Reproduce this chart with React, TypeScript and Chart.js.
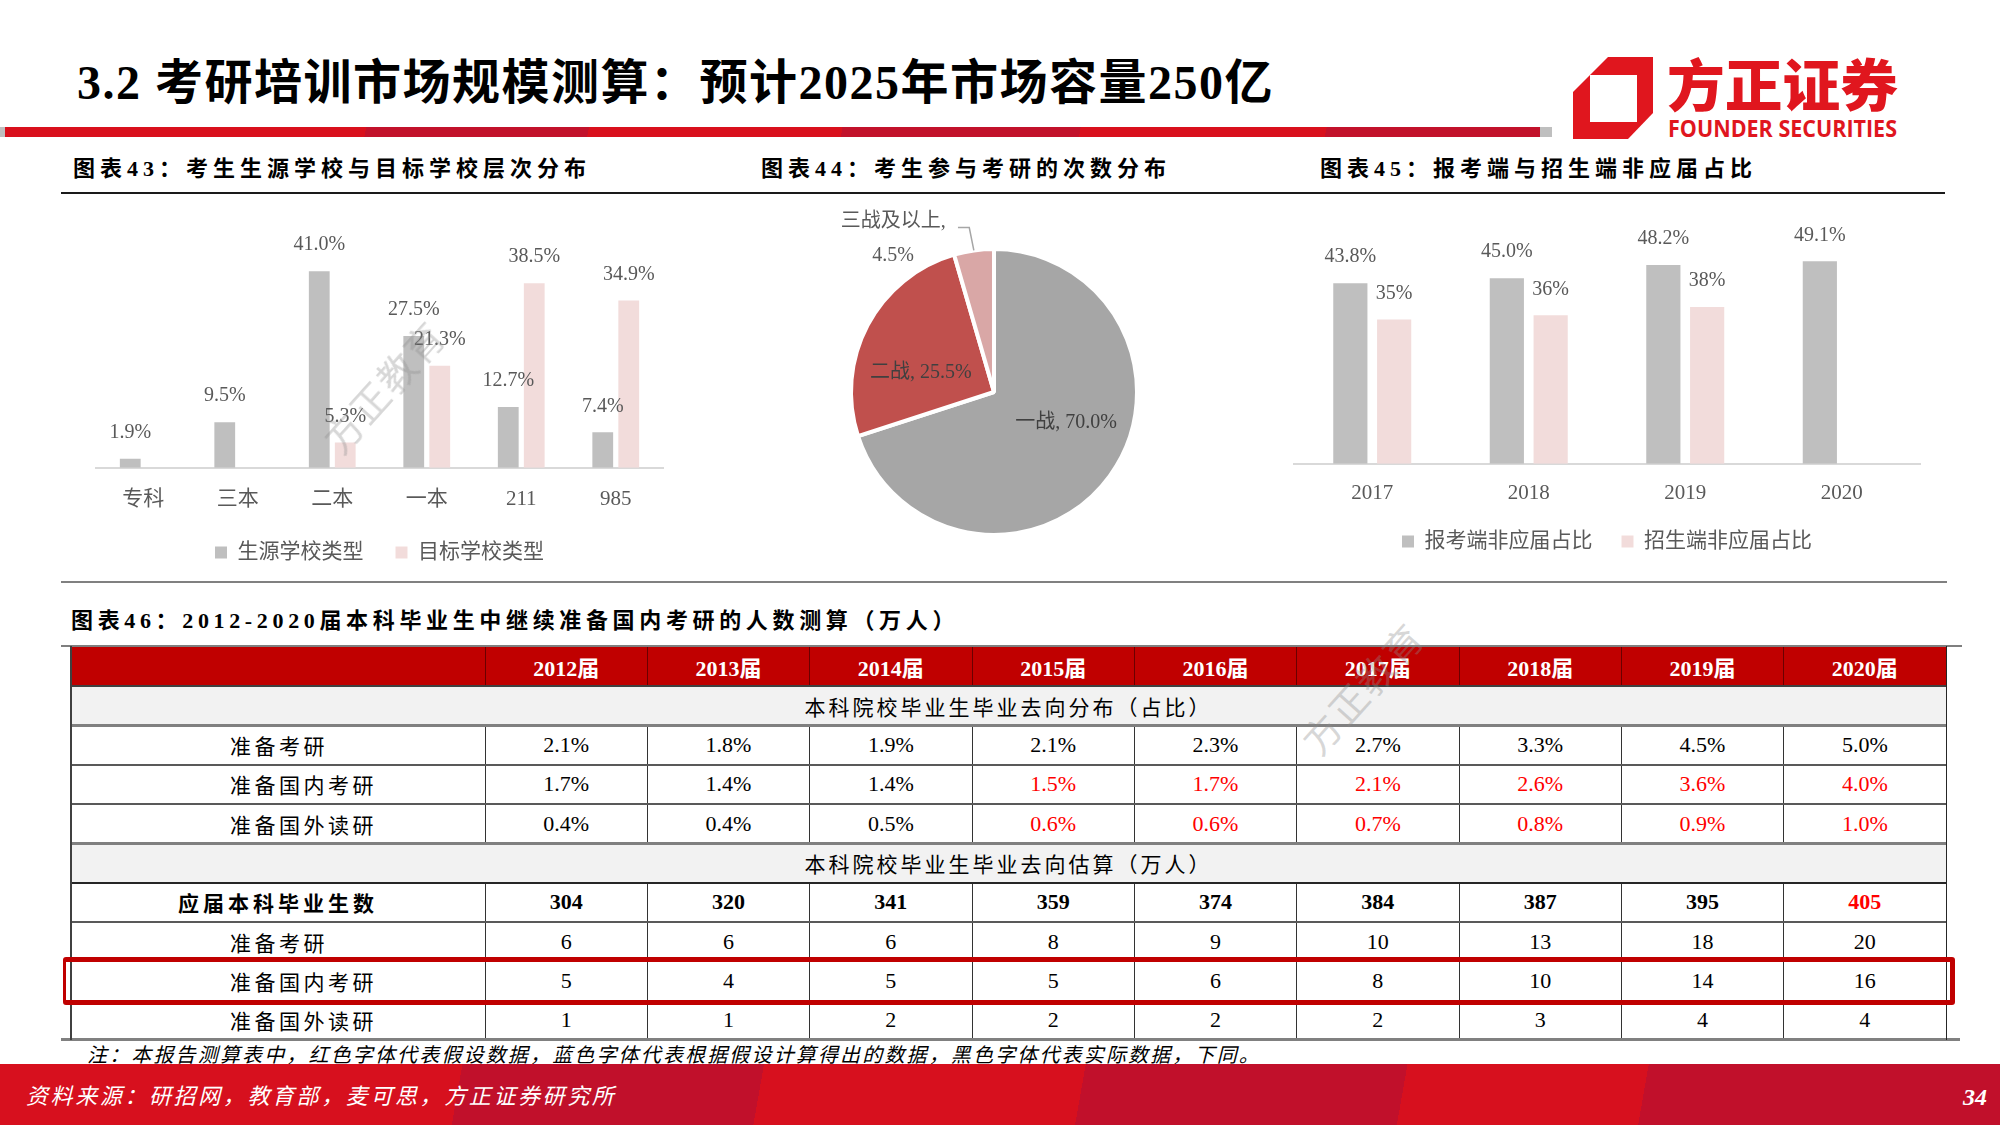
import React, { useEffect, useRef } from "react";
import { Chart, registerables } from "chart.js";

Chart.register(...registerables);

// ---------------- DATA ----------------
const schoolCategories = ["专科", "三本", "二本", "一本", "211", "985"];
const sourceSchoolShare = [1.9, 9.5, 41.0, 27.5, 12.7, 7.4];
const targetSchoolShare = [null, null, 5.3, 21.3, 38.5, 34.9];
const schoolSeriesNames = ["生源学校类型", "目标学校类型"];

const attemptLabels = ["一战", "二战", "三战及以上"];
const attemptShares = [70.0, 25.5, 4.5];

const yearCategories = ["2017", "2018", "2019", "2020"];
const applicantNonFresh = [43.8, 45.0, 48.2, 49.1];
const enrollNonFresh = [35, 36, 38, null];
const yearSeriesNames = ["报考端非应届占比", "招生端非应届占比"];

const tableYears = ["2012届", "2013届", "2014届", "2015届", "2016届", "2017届", "2018届", "2019届", "2020届"];
const prepareExamPct = ["2.1%", "1.8%", "1.9%", "2.1%", "2.3%", "2.7%", "3.3%", "4.5%", "5.0%"];
const prepareDomesticPct = ["1.7%", "1.4%", "1.4%", "1.5%", "1.7%", "2.1%", "2.6%", "3.6%", "4.0%"];
const prepareAbroadPct = ["0.4%", "0.4%", "0.5%", "0.6%", "0.6%", "0.7%", "0.8%", "0.9%", "1.0%"];
const graduates = [304, 320, 341, 359, 374, 384, 387, 395, 405];
const prepareExamNum = [6, 6, 6, 8, 9, 10, 13, 18, 20];
const prepareDomesticNum = [5, 4, 5, 5, 6, 8, 10, 14, 16];
const prepareAbroadNum = [1, 1, 2, 2, 2, 2, 3, 4, 4];
const assumedPctFromIndex = 3;
const assumedGraduateIndex = 8;

// ---------------- STYLE ----------------
const SERIF = '"Liberation Serif", "Noto Sans CJK SC", serif';
const CJK = '"Noto Sans CJK SC", "Liberation Serif", sans-serif';
const GRAY_BAR = "#BFBFBF";
const PINK_BAR = "#F2DCDB";
const LABEL_GRAY = "#595959";

const barValueLabels = {
  id: "barValueLabels",
  afterDatasetsDraw(chart: any, _args: any, opts: any) {
    const ctx = chart.ctx;
    ctx.save();
    ctx.font = `${opts.size}px ${SERIF}`;
    ctx.fillStyle = opts.color;
    ctx.textAlign = "center";
    ctx.textBaseline = "middle";
    chart.data.datasets.forEach((ds: any, i: number) => {
      const meta = chart.getDatasetMeta(i);
      const dec = opts.decimals[i];
      meta.data.forEach((bar: any, j: number) => {
        const v = ds.data[j];
        if (v == null) return;
        ctx.fillText(Number(v).toFixed(dec) + "%", bar.x, bar.y - opts.offset);
      });
    });
    ctx.restore();
  },
};

const pieLabels = {
  id: "pieLabels",
  afterDatasetsDraw(chart: any, _args: any, opts: any) {
    const ctx = chart.ctx;
    const meta = chart.getDatasetMeta(0);
    const values = chart.data.datasets[0].data;
    const labels = chart.data.labels;
    ctx.save();
    ctx.font = `20px ${SERIF}`;
    ctx.textAlign = "center";
    ctx.textBaseline = "middle";
    meta.data.forEach((arc: any, i: number) => {
      const cx = arc.x, cy = arc.y, r = arc.outerRadius;
      const p = opts.placements[i];
      const val = Number(values[i]).toFixed(1) + "%";
      ctx.fillStyle = p.color;
      if (p.outside) {
        ctx.fillText(labels[i] + ",", cx + p.dx * r, cy + p.dy * r);
        ctx.fillText(val, cx + p.dx * r, cy + p.dy2 * r);
        const mid = (arc.startAngle + arc.endAngle) / 2;
        const ex = cx + Math.cos(mid) * r;
        const ey = cy + Math.sin(mid) * r;
        ctx.strokeStyle = "#A6A6A6";
        ctx.lineWidth = 1.5;
        ctx.beginPath();
        ctx.moveTo(cx + p.lx0 * r, cy + p.ly * r);
        ctx.lineTo(cx + p.lx1 * r, cy + p.ly * r);
        ctx.lineTo(ex, ey);
        ctx.stroke();
      } else {
        ctx.fillText(`${labels[i]}, ${val}`, cx + p.dx * r, cy + p.dy * r);
      }
    });
    ctx.restore();
  },
};

// legend items get an em-space after all but the last, to widen the gap between items
function spacedLegendLabels(chart: any) {
  const items = (Chart as any).defaults.plugins.legend.labels.generateLabels(chart);
  items.forEach((it: any, i: number) => {
    if (i < items.length - 1) it.text = it.text + "\u2003";
  });
  return items;
}

function schoolConfig(): any {
  return {
    type: "bar",
    data: {
      labels: schoolCategories,
      datasets: [
        { label: schoolSeriesNames[0], data: sourceSchoolShare, backgroundColor: GRAY_BAR, categoryPercentage: 0.55, barPercentage: 0.8 },
        { label: schoolSeriesNames[1], data: targetSchoolShare, backgroundColor: PINK_BAR, categoryPercentage: 0.55, barPercentage: 0.8 },
      ],
    },
    options: {
      responsive: false,
      animation: false,
      devicePixelRatio: 1,
      layout: { padding: { left: 35, right: 18, top: 28, bottom: 7 } },
      scales: {
        x: {
          grid: { display: false, drawTicks: false },
          border: { display: true, color: "#D9D9D9", width: 2 },
          ticks: { font: { family: SERIF, size: 21 }, color: LABEL_GRAY, padding: 19 },
        },
        y: { display: false, min: 0, max: 50 },
      },
      plugins: {
        legend: {
          position: "bottom",
          labels: {
            font: { family: SERIF, size: 21 }, color: LABEL_GRAY, boxWidth: 12, boxHeight: 12, padding: 11,
            generateLabels: spacedLegendLabels,
          },
        },
        tooltip: { enabled: false },
        barValueLabels: { size: 20, color: LABEL_GRAY, offset: 26, decimals: [1, 1] },
      },
    },
    plugins: [barValueLabels],
  };
}

function yearConfig(): any {
  return {
    type: "bar",
    data: {
      labels: yearCategories,
      datasets: [
        { label: yearSeriesNames[0], data: applicantNonFresh, backgroundColor: GRAY_BAR, categoryPercentage: 0.56, barPercentage: 0.78 },
        { label: yearSeriesNames[1], data: enrollNonFresh, backgroundColor: PINK_BAR, categoryPercentage: 0.56, barPercentage: 0.78 },
      ],
    },
    options: {
      responsive: false,
      animation: false,
      devicePixelRatio: 1,
      layout: { padding: { left: 14, right: 30, top: 37, bottom: 8 } },
      scales: {
        x: {
          grid: { display: false, drawTicks: false },
          border: { display: true, color: "#D9D9D9", width: 2 },
          ticks: { font: { family: SERIF, size: 21 }, color: LABEL_GRAY, padding: 17 },
        },
        y: { display: false, min: 0, max: 55 },
      },
      plugins: {
        legend: {
          position: "bottom",
          labels: {
            font: { family: SERIF, size: 21 }, color: LABEL_GRAY, boxWidth: 12, boxHeight: 12, padding: 8,
            generateLabels: spacedLegendLabels,
          },
        },
        tooltip: { enabled: false },
        barValueLabels: { size: 20, color: LABEL_GRAY, offset: 26, decimals: [1, 0] },
      },
    },
    plugins: [barValueLabels],
  };
}

function pieConfig(): any {
  return {
    type: "pie",
    data: {
      labels: attemptLabels,
      datasets: [
        {
          data: attemptShares,
          backgroundColor: ["#A6A6A6", "#C0504D", "#D9A7A6"],
          borderColor: "#FFFFFF",
          borderWidth: 4,
        },
      ],
    },
    options: {
      responsive: false,
      animation: false,
      devicePixelRatio: 1,
      layout: { padding: { left: 49, right: 51, top: 47, bottom: 23 } },
      plugins: {
        legend: { display: false },
        tooltip: { enabled: false },
        pieLabels: {
          placements: [
            { dx: 0.504, dy: 0.216, color: "#404040" },
            { dx: -0.511, dy: -0.137, color: "#404040" },
            { outside: true, dx: -0.705, dy: -1.19, dy2: -0.955, lx0: -0.252, lx1: -0.173, ly: -1.15, color: LABEL_GRAY },
          ],
        },
      },
    },
    plugins: [pieLabels],
  };
}

function ChartCanvas({ make, left, top, width, height }: any) {
  const ref = useRef<HTMLCanvasElement>(null);
  useEffect(() => {
    const chart = new Chart(ref.current as HTMLCanvasElement, make());
    return () => chart.destroy();
  }, []);
  return (
    <canvas
      ref={ref}
      width={width}
      height={height}
      style={{ position: "absolute", left, top, width, height, display: "block" }}
    />
  );
}

function Box({ x, y, w, h, bg, style }: any) {
  return <div style={{ position: "absolute", left: x, top: y, width: w, height: h, background: bg, ...style }} />;
}

function Txt({ x, y, w, h, children, style }: any) {
  return (
    <div
      style={{
        position: "absolute",
        left: x,
        top: y,
        width: w,
        height: h,
        display: "flex",
        alignItems: "center",
        justifyContent: "center",
        whiteSpace: "nowrap",
        ...style,
      }}
    >
      {children}
    </div>
  );
}

// ---------------- TABLE ----------------
const TABLE_LEFT = 71;
const TABLE_RIGHT = 1946;
const FIRST_COL_W = 414;
const COL_W = (TABLE_RIGHT - TABLE_LEFT - FIRST_COL_W) / 9;
const HEADER_TOP = 646;
const HEADER_H = 40;
const ROW_H = 39.33;

type Row =
  | { kind: "section"; text: string }
  | { kind: "data"; label: string; values: (string | number)[]; red: boolean[]; bold?: boolean; center?: boolean };

function buildRows(): Row[] {
  const none = tableYears.map(() => false);
  const pctRed = tableYears.map((_, i) => i >= assumedPctFromIndex);
  return [
    { kind: "section", text: "本科院校毕业生毕业去向分布（占比）" },
    { kind: "data", label: "准备考研", values: prepareExamPct, red: none },
    { kind: "data", label: "准备国内考研", values: prepareDomesticPct, red: pctRed },
    { kind: "data", label: "准备国外读研", values: prepareAbroadPct, red: pctRed },
    { kind: "section", text: "本科院校毕业生毕业去向估算（万人）" },
    { kind: "data", label: "应届本科毕业生数", values: graduates, red: tableYears.map((_, i) => i === assumedGraduateIndex), bold: true, center: true },
    { kind: "data", label: "准备考研", values: prepareExamNum, red: none },
    { kind: "data", label: "准备国内考研", values: prepareDomesticNum, red: none },
    { kind: "data", label: "准备国外读研", values: prepareAbroadNum, red: none },
  ];
}

function DataTable() {
  const rows = buildRows();
  const els: any[] = [];
  const colX = (k: number) => TABLE_LEFT + FIRST_COL_W + k * COL_W;
  els.push(<Box key="hdr" x={TABLE_LEFT} y={HEADER_TOP} w={TABLE_RIGHT - TABLE_LEFT} h={HEADER_H} bg="#C00000" />);
  tableYears.forEach((yr, k) => {
    els.push(
      <Txt key={"hy" + k} x={colX(k)} y={HEADER_TOP} w={COL_W} h={HEADER_H}
        style={{ color: "#fff", fontFamily: SERIF, fontWeight: 700, fontSize: 22 }}>
        {yr}
      </Txt>
    );
    els.push(<Box key={"hv" + k} x={colX(k) - 0.5} y={HEADER_TOP} w={1} h={HEADER_H} bg="#6B0000" />);
  });
  rows.forEach((row, r) => {
    const top = HEADER_TOP + HEADER_H + r * ROW_H;
    if (row.kind === "section") {
      els.push(<Box key={"sb" + r} x={TABLE_LEFT} y={top} w={TABLE_RIGHT - TABLE_LEFT} h={ROW_H} bg="#F2F2F2" />);
      els.push(
        <Txt key={"st" + r} x={TABLE_LEFT} y={top} w={TABLE_RIGHT - TABLE_LEFT} h={ROW_H}
          style={{ fontFamily: CJK, fontSize: 21, letterSpacing: 3, color: "#000" }}>
          {row.text}
        </Txt>
      );
    } else {
      els.push(
        <Txt key={"rl" + r} x={row.center ? TABLE_LEFT : TABLE_LEFT + 159} y={top} w={row.center ? FIRST_COL_W : FIRST_COL_W - 159} h={ROW_H}
          style={{ fontFamily: CJK, fontSize: 21, letterSpacing: row.bold ? 4 : 3.5, fontWeight: row.bold ? 700 : 400, color: "#000", justifyContent: row.center ? "center" : "flex-start" }}>
          {row.label}
        </Txt>
      );
      row.values.forEach((v, k) => {
        els.push(
          <Txt key={`c${r}_${k}`} x={colX(k)} y={top} w={COL_W} h={ROW_H}
            style={{ fontFamily: SERIF, fontSize: 22, fontWeight: row.bold ? 700 : 400, color: row.red[k] ? "#FF0000" : "#000" }}>
            {String(v)}
          </Txt>
        );
        els.push(<Box key={`v${r}_${k}`} x={colX(k) - 0.5} y={top} w={1.2} h={ROW_H} bg="#333" />);
      });
    }
  });
  const lineStyles: [string, number][] = [
    ["#404040", 2], ["#808080", 3], ["#595959", 2], ["#595959", 2], ["#808080", 3],
    ["#262626", 2], ["#595959", 2], ["#595959", 2], ["#262626", 2],
  ];
  lineStyles.forEach(([c, t], i) => {
    const y = HEADER_TOP + HEADER_H + i * ROW_H;
    els.push(<Box key={"hl" + i} x={TABLE_LEFT} y={y - t / 2} w={TABLE_RIGHT - TABLE_LEFT} h={t} bg={c} />);
  });
  const bottom = HEADER_TOP + HEADER_H + rows.length * ROW_H;
  els.push(<Box key="top" x={61} y={HEADER_TOP - 1} w={1901} h={1.5} bg="#7F7F7F" />);
  els.push(<Box key="bot" x={61} y={bottom - 1.5} w={1899} h={3} bg="#808080" />);
  els.push(<Box key="lb" x={TABLE_LEFT - 1} y={HEADER_TOP} w={1.5} h={bottom - HEADER_TOP} bg="#404040" />);
  els.push(<Box key="rb" x={TABLE_RIGHT - 0.5} y={HEADER_TOP} w={1.5} h={bottom - HEADER_TOP} bg="#262626" />);
  const hlTop = HEADER_TOP + HEADER_H + 7 * ROW_H;
  els.push(
    <div key="hlbox" style={{
      position: "absolute", left: 63, top: hlTop - 4, width: 1955 - 63, height: ROW_H + 8,
      boxSizing: "border-box", borderTop: "5px solid #C00000", borderBottom: "5px solid #C00000",
      borderRight: "5px solid #C00000", borderLeft: "3px solid #C00000", borderRadius: 3,
    }} />
  );
  return <>{els}</>;
}

function Logo() {
  return (
    <svg width={2000} height={160} style={{ position: "absolute", left: 0, top: 0 }}>
      <polygon points="1608,57 1653,57 1653,113 1628,139 1573,139 1573,92" fill="#E0161E" />
      <rect x={1590} y={75} width={47} height={47} fill="#fff" />
      <text x={1667} y={106} fontSize={56} fontWeight={900} fill="#E0161E" fontFamily={CJK}
        textLength={231} lengthAdjust="spacingAndGlyphs">方正证券</text>
      <text x={1668} y={137} fontSize={24} fontWeight={700} fill="#E0161E" fontFamily='"Open Sans", "Noto Sans", sans-serif'
        textLength={229} lengthAdjust="spacingAndGlyphs">FOUNDER SECURITIES</text>
    </svg>
  );
}

const headingStyle: any = { fontFamily: SERIF, fontWeight: 700, fontSize: 22, letterSpacing: 5, color: "#000", justifyContent: "flex-start" };
const watermarkStyle: any = { fontFamily: CJK, fontSize: 38, color: "rgba(140,140,140,0.35)", transform: "rotate(-48deg)", justifyContent: "center", letterSpacing: 2 };

export default function App() {
  return (
    <div style={{ position: "absolute", left: 0, top: 0, width: 2000, height: 1125, background: "#fff", overflow: "hidden" }}>
      <Txt x={77} y={53} w={1300} h={50}
        style={{ fontFamily: SERIF, fontWeight: 700, fontSize: 48, letterSpacing: 1.5, color: "#000", justifyContent: "flex-start" }}>
        3.2 考研培训市场规模测算：预计2025年市场容量250亿
      </Txt>
      <Box x={0} y={127} w={5} h={10} bg="#BFBFBF" />
      <Box x={5} y={127} w={1535} h={10}
        bg="linear-gradient(100deg, #D9101C 0%, #D9101C 23.5%, #C2122B 23.5%, #C2122B 38%, #D9101C 38%, #D9101C 54.5%, #C2122B 54.5%, #C2122B 70%, #D9101C 70%, #D9101C 86%, #C2122B 86%)" />
      <Box x={1540} y={127} w={12} h={10} bg="#BFBFBF" />
      <Logo />

      <Txt x={73} y={155} w={620} h={22} style={headingStyle}>图表43：考生生源学校与目标学校层次分布</Txt>
      <Txt x={761} y={155} w={520} h={22} style={headingStyle}>图表44：考生参与考研的次数分布</Txt>
      <Txt x={1320} y={155} w={560} h={22} style={headingStyle}>图表45：报考端与招生端非应届占比</Txt>
      <Box x={61} y={192} w={1884} h={2} bg="#1A1A1A" />

      <ChartCanvas make={schoolConfig} left={61} top={200} width={620} height={380} />
      <ChartCanvas make={pieConfig} left={800} top={200} width={390} height={360} />
      <ChartCanvas make={yearConfig} left={1280} top={200} width={670} height={370} />

      <Box x={61} y={581} w={1886} h={2} bg="#808080" />

      <Txt x={71} y={607} w={1000} h={22} style={{ ...headingStyle, letterSpacing: 4.65 }}>
        图表46：2012-2020届本科毕业生中继续准备国内考研的人数测算（万人）
      </Txt>
      <DataTable />

      <Txt x={87} y={1041} w={1400} h={24}
        style={{ fontFamily: CJK, fontStyle: "italic", fontSize: 20, letterSpacing: 2.15, color: "#000", justifyContent: "flex-start" }}>
        注：本报告测算表中，红色字体代表假设数据，蓝色字体代表根据假设计算得出的数据，黑色字体代表实际数据，下同。
      </Txt>

      <Txt x={282} y={362} w={200} h={46} style={watermarkStyle}>方正教育</Txt>
      <Txt x={1261} y={664} w={200} h={46} style={watermarkStyle}>方正教育</Txt>

      <Box x={0} y={1064} w={2000} h={61}
        bg="linear-gradient(100deg, #D7101E 0%, #D7101E 23%, #C1102B 23%, #C1102B 38%, #D7101E 38%, #D7101E 54%, #C1102B 54%, #C1102B 70%, #D7101E 70%, #D7101E 82%, #C1102B 82%)" />
      <Txt x={26} y={1080} w={900} h={28}
        style={{ fontFamily: CJK, fontStyle: "italic", fontSize: 22, letterSpacing: 2.6, color: "#fff", justifyContent: "flex-start" }}>
        资料来源：研招网，教育部，麦可思，方正证券研究所
      </Txt>
      <Txt x={1955} y={1084} w={40} h={26}
        style={{ fontFamily: SERIF, fontStyle: "italic", fontWeight: 700, fontSize: 24, color: "#fff" }}>
        34
      </Txt>
    </div>
  );
}
